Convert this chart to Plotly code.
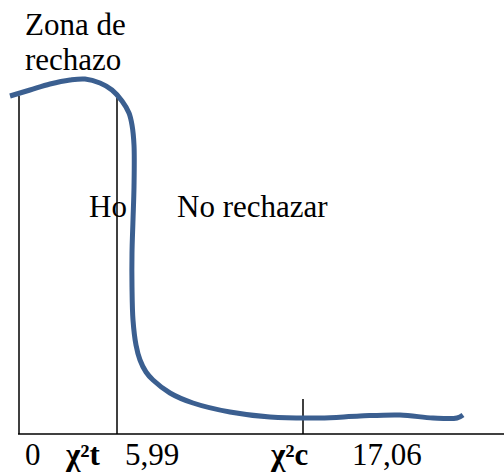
import plotly.graph_objects as go

# hand-drawn density curve, schematic units (x ~ pixels across, y above the baseline)
curve_x = [10, 30, 50, 70, 85, 100, 112, 122, 129, 132, 134, 134, 133, 132, 132, 133,
           136, 140, 146, 153, 170, 193, 230, 270, 320, 360, 400, 433, 457, 463]
curve_y = [338, 344, 350, 354, 355, 351, 344, 333, 321, 309, 289, 247, 214, 181, 147, 114,
           89, 74, 62, 54, 41, 31, 22, 17, 16, 18, 19, 16, 16, 19]

# vertical markers: left axis, critical value 5,99, and the computed statistic
marker_x = [19, 117, 303]
marker_top = [338, 336, 35]
baseline_x = [18, 504]

labels = ["Zona de", "rechazo", "Ho", "No rechazar", "0", "<b>χ²t</b>", "5,99", "<b>χ²c</b>", "17,06"]
label_x = [23, 23, 87, 175, 23, 63, 123, 268, 350]
label_y = [410, 375, 228, 228, -20, -20, -20, -20, -20]

CURVE_COLOR = "#3b5f90"
FONT = "Liberation Serif, Times New Roman, serif"

fig = go.Figure()
fig.add_trace(go.Scatter(x=baseline_x, y=[0, 0], mode="lines", line=dict(color="black", width=1.5)))
for mx, top in zip(marker_x, marker_top):
    fig.add_trace(go.Scatter(x=[mx, mx], y=[0, top], mode="lines", line=dict(color="black", width=1.5)))
fig.add_trace(
    go.Scatter(x=curve_x, y=curve_y, mode="lines", line=dict(color=CURVE_COLOR, width=5, shape="spline", smoothing=1.0))
)

for text, x, y in zip(labels, label_x, label_y):
    fig.add_annotation(
        text=text, x=x, y=y, xanchor="left", yanchor="middle", showarrow=False,
        font=dict(family=FONT, size=31, color="black"),
    )

fig.update_layout(
    width=504,
    height=473,
    margin=dict(l=0, r=0, t=0, b=0),
    paper_bgcolor="white",
    plot_bgcolor="white",
    showlegend=False,
)
fig.update_xaxes(range=[0, 504], visible=False)
fig.update_yaxes(range=[-39, 434], visible=False)

# drop the browser's default body margin so the figure sits at the window corner
fig.write_html(
    "out.html",
    config={"displayModeBar": False},
    post_script="document.body.style.margin='0';",
)
